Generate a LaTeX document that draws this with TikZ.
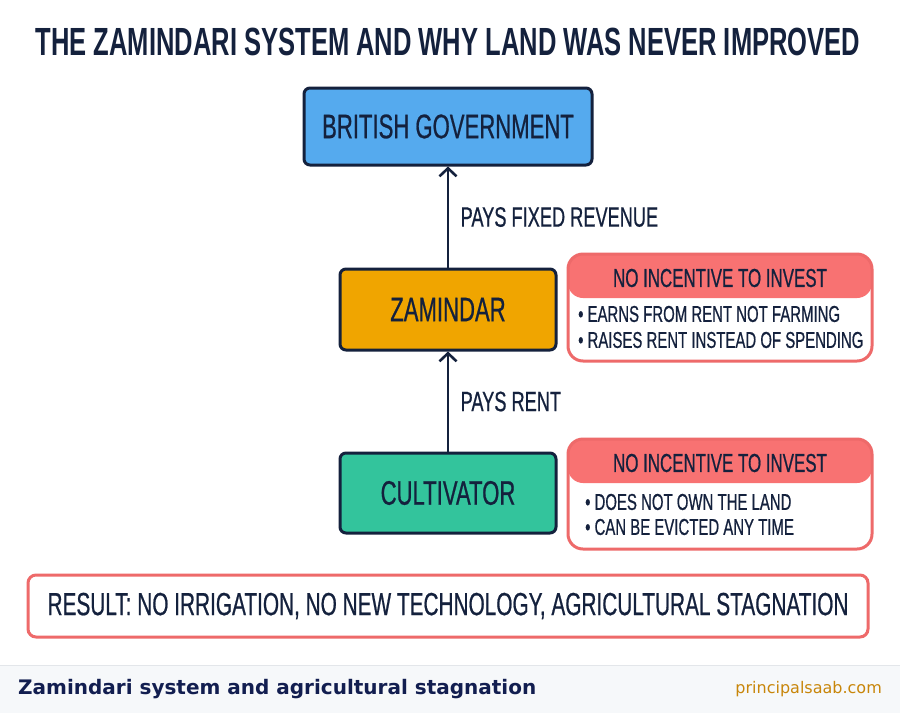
\documentclass[tikz,border=0pt]{standalone}
\usepackage{fontspec}
\setmainfont{Liberation Sans}
\newfontfamily\condfont[FakeStretch=0.65,FakeBold=0.6]{Liberation Sans}
\newfontfamily\titlefont[FakeStretch=0.65]{Liberation Sans Bold}
\newfontfamily\footfont{DejaVu Sans}
\usetikzlibrary{arrows.meta,positioning}

\definecolor{navy}{HTML}{14213D}
\definecolor{govblue}{HTML}{55AAEE}
\definecolor{zamorange}{HTML}{F0A500}
\definecolor{cultteal}{HTML}{33C49C}
\definecolor{salmon}{HTML}{F87272}
\definecolor{redline}{HTML}{EE6A6A}
\definecolor{footbg}{HTML}{F6F8FA}
\definecolor{footline}{HTML}{E3E6EA}
\definecolor{sitegold}{HTML}{C8860A}

\tikzset{
  rolebox/.style={draw=navy, line width=3pt, rounded corners=6pt, inner sep=0pt,
    minimum height=80pt, text=navy, font=\condfont\fontsize{34}{40}\selectfont},
  notebox/.style={draw=redline, line width=3pt, rounded corners=15pt, fill=white,
    minimum width=304pt, inner sep=0pt,
    path picture={\fill[salmon] (path picture bounding box.north west) rectangle
      ([yshift=-44pt]path picture bounding box.north east);}},
  notehead/.style={text=navy, font=\condfont\fontsize{26}{30}\selectfont},
  bullet/.style={anchor=west, inner sep=0pt, text=navy, font=\condfont\fontsize{23}{26}\selectfont},
  flowarrow/.style={draw=navy, line width=2.6pt, -{Straight Barb[length=8pt,width=17pt,line width=2.6pt]}},
  flowlabel/.style={right, xshift=8pt, text=navy, font=\condfont\fontsize{28}{32}\selectfont},
}

\begin{document}
\begin{tikzpicture}[x=1pt,y=-1pt]
\useasboundingbox (0,0) rectangle (900,713);
\fill[white] (0,0) rectangle (900,713);

% Title
\node[text=navy, font=\titlefont\fontsize{39.3}{44}\selectfont] (title) at (448,42)
  {THE ZAMINDARI SYSTEM AND WHY LAND WAS NEVER IMPROVED};

% Chain of roles
\node[rolebox, fill=govblue, minimum width=288pt, minimum height=77pt] (gov) at (448,126.5) {BRITISH GOVERNMENT};
\node[rolebox, fill=zamorange, minimum width=216pt, minimum height=81pt] (zamindar) at (448,309.5) {ZAMINDAR};
\node[rolebox, fill=cultteal, minimum width=216pt, minimum height=80pt] (cultivator) at (448,493) {CULTIVATOR};

\draw[flowarrow] (zamindar.north) -- (gov.south) node[flowlabel, midway] {PAYS FIXED REVENUE};
\draw[flowarrow] (cultivator.north) -- (zamindar.south) node[flowlabel, midway] {PAYS RENT};

% Zamindar note
\node[notebox, minimum height=107pt] (zamnote) at (720,307.5) {};
\node[notehead] (zamhead) at (720,278) {NO INCENTIVE TO INVEST};
\node[bullet] (zamone) at (578,314) {• EARNS FROM RENT NOT FARMING};
\node[bullet] (zamtwo) at (578,340) {• RAISES RENT INSTEAD OF SPENDING};

% Cultivator note
\node[notebox, minimum height=110pt] (cultnote) at (720,494) {};
\node[notehead] (culthead) at (720,463) {NO INCENTIVE TO INVEST};
\node[bullet] (cultone) at (585,502) {• DOES NOT OWN THE LAND};
\node[bullet] (culttwo) at (585,527) {• CAN BE EVICTED ANY TIME};

% Result
\node[draw=redline, line width=3pt, rounded corners=8pt, fill=white, inner sep=0pt,
  minimum width=840pt, minimum height=62pt, text=navy,
  font=\condfont\fontsize{32}{36}\selectfont] (result) at (448,606)
  {RESULT: NO IRRIGATION, NO NEW TECHNOLOGY, AGRICULTURAL STAGNATION};

% Footer
\fill[footbg] (0,665) rectangle (900,713);
\draw[footline, line width=1pt] (0,665) -- (900,665);
\node[anchor=west, inner sep=0pt, text=navy!90!blue, font=\footfont\bfseries\fontsize{20}{24}\selectfont] (foottitle) at (18,689)
  {Zamindari system and agricultural stagnation};
\node[anchor=east, inner sep=0pt, text=sitegold, font=\footfont\fontsize{16}{20}\selectfont] (footsite) at (882,689)
  {principalsaab.com};
\end{tikzpicture}
\end{document}
